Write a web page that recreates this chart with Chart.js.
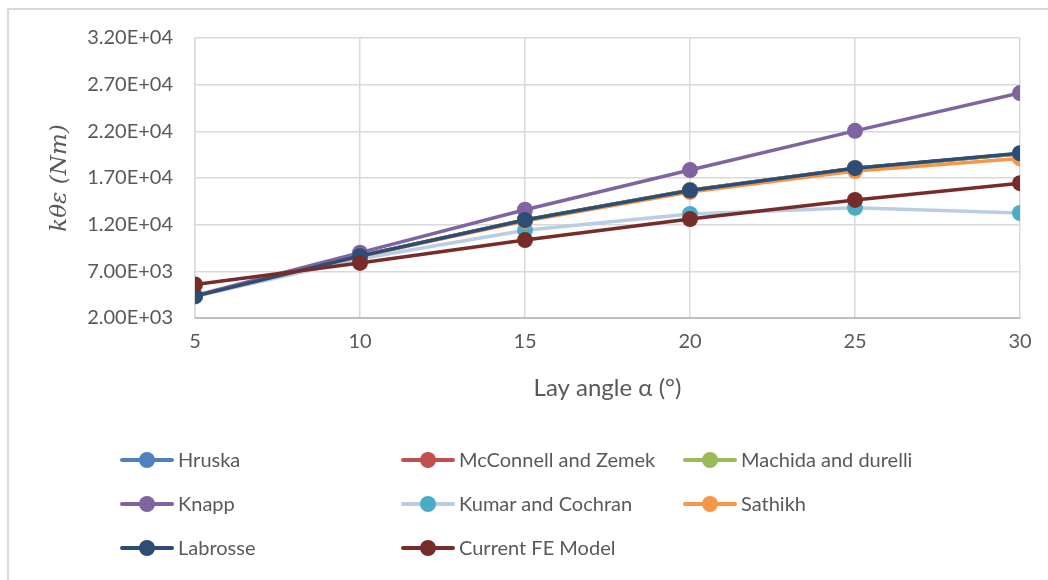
<!DOCTYPE html>
<html>
<head>
<meta charset="utf-8">
<script src="https://cdn.jsdelivr.net/npm/chart.js@4/dist/chart.umd.min.js"></script>
<style>
  html, body { margin: 0; padding: 0; background: #fff; }
  #wrap { position: relative; width: 1048px; height: 580px; overflow: hidden; }
  #frame { position: absolute; left: 7px; top: 8px; width: 1100px; height: 700px;
           border-left: 2px solid #d9d9d9; border-top: 2px solid #d9d9d9; box-sizing: border-box; }
  canvas { position: absolute; left: 0; top: 0; }
  .lg { position: absolute; height: 24px; font-family: Lato, "Open Sans", sans-serif; font-size: 20px; color: #595959; white-space: nowrap; }
  .lg .ln { position: absolute; left: 0; top: 10px; width: 54px; height: 4px; border-radius: 2px; }
  .lg .dot { position: absolute; left: 19px; top: 4px; width: 16px; height: 16px; border-radius: 50%; }
  .lg .tx { position: absolute; left: 58px; top: -1px; line-height: 24px; }
</style>
</head>
<body>
<div id="wrap">
  <div id="frame"></div>
  <canvas id="c" width="1048" height="580"></canvas>
  <div id="legend"></div>
</div>
<script>
// ---- data ----
const xValues = [5, 10, 15, 20, 25, 30];
const seriesNames = ["Hruska", "McConnell and Zemek", "Machida and durelli", "Knapp",
                     "Kumar and Cochran", "Sathikh", "Labrosse", "Current FE Model"];
const hruska    = [4350, 8650, 12500, 15700, 18050, 19600];
const mcconnell = [4350, 8650, 12500, 15700, 18050, 19600];
const machida   = [4350, 8650, 12500, 15700, 18050, 19600];
const knapp     = [4400, 9000, 13600, 17850, 22050, 26100];
const kumar     = [4300, 8350, 11400, 13150, 13800, 13250];
const sathikh   = [4350, 8600, 12400, 15500, 17750, 19100];
const labrosse  = [4350, 8650, 12500, 15650, 18050, 19650];
const currentFE = [5600, 7900, 10350, 12600, 14650, 16450];
const yTickValues = [2000, 7000, 12000, 17000, 22000, 27000, 32000];
const yTickLabels = ["2.00E+03", "7.00E+03", "1.20E+04", "1.70E+04", "2.20E+04", "2.70E+04", "3.20E+04"];
const xTickLabels = ["5", "10", "15", "20", "25", "30"];

// ---- styles ----
const lineColors   = ["#4f81bd", "#c0504d", "#9bbb59", "#8064a2", "#b9cde5", "#f79646", "#2c4d75", "#772c2a"];
const markerColors = ["#4f81bd", "#c0504d", "#9bbb59", "#8064a2", "#4bacc6", "#f79646", "#2c4d75", "#772c2a"];
const allSeries = [hruska, mcconnell, machida, knapp, kumar, sathikh, labrosse, currentFE];

const datasets = allSeries.map((vals, i) => ({
  label: seriesNames[i],
  data: xValues.map((x, j) => ({ x: x, y: vals[j] })),
  borderColor: lineColors[i],
  backgroundColor: markerColors[i],
  pointBackgroundColor: markerColors[i],
  pointBorderColor: markerColors[i],
  borderWidth: 3.5,
  pointRadius: 8,
  pointBorderWidth: 0,
  pointHoverRadius: 8,
  tension: 0,
  order: allSeries.length - i
}));

const FONT = "Lato, 'Open Sans', sans-serif";
new Chart(document.getElementById('c'), {
  type: 'line',
  data: { datasets },
  options: {
    responsive: false,
    animation: false,
    events: [],
    layout: { padding: { left: 20, right: 28, top: 38, bottom: 175 } },
    plugins: { legend: { display: false }, tooltip: { enabled: false } },
    scales: {
      x: {
        type: 'linear', min: 5, max: 30,
        afterBuildTicks: (s) => { s.ticks = xValues.map(v => ({ value: v })); },
        afterFit: (s) => { s.height = 87; },
        ticks: { callback: (v, i) => xTickLabels[i], color: '#595959', font: { family: FONT, size: 20 }, padding: 12, maxRotation: 0 },
        grid: { color: '#d9d9d9', lineWidth: 1.5, drawTicks: false },
        border: { color: '#bfbfbf', width: 2 },
        title: { display: true, text: 'Lay angle α (°)', color: '#595959', font: { family: FONT, size: 24 }, padding: { top: 4, bottom: 2 } }
      },
      y: {
        type: 'linear', min: 2000, max: 32000,
        afterBuildTicks: (s) => { s.ticks = yTickValues.map(v => ({ value: v })); },
        afterFit: (s) => { s.width = 175; },
        ticks: { callback: (v, i) => yTickLabels[i], color: '#595959', font: { family: FONT, size: 20 }, padding: 22 },
        grid: { color: '#d9d9d9', lineWidth: 1.5, drawTicks: false },
        border: { color: '#d9d9d9', width: 1.5 },
        title: { display: true, text: 'kθε (Nm)', color: '#595959', font: { family: "'DejaVu Serif', serif", size: 23, style: 'italic' }, padding: { top: 26, bottom: 4 } }
      }
    }
  }
});

// ---- HTML legend (3-column grid) ----
const legendCols = [120, 401, 683];
const legendRows = [448, 492, 536];
const lg = document.getElementById('legend');
seriesNames.forEach((name, i) => {
  const d = document.createElement('div');
  d.className = 'lg';
  d.style.left = legendCols[i % 3] + 'px';
  d.style.top = legendRows[Math.floor(i / 3)] + 'px';
  d.innerHTML = '<span class="ln" style="background:' + lineColors[i] + '"></span>' +
                '<span class="dot" style="background:' + markerColors[i] + '"></span>' +
                '<span class="tx"></span>';
  d.querySelector('.tx').textContent = name;
  lg.appendChild(d);
});
</script>
</body>
</html>
